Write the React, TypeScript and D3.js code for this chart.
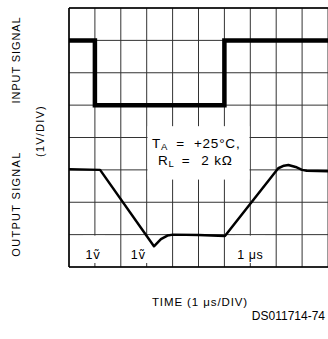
import React from "react";
import * as d3 from "d3";

// Time axis: 10 divisions of 1 µs; vertical: 8 divisions of 1 V
const timeDivisions = d3.range(0, 11);
const voltDivisions = d3.range(0, 9);

// Input square wave (time in divisions, level in divisions)
const inputTime = [0, 1, 1, 6, 6, 10];
const inputLevel = [7, 7, 5, 5, 7, 7];

// Output response
const outputTime = [0, 1.2, 3.28, 3.55, 3.8, 4.02, 5.0, 6.02, 8.08, 8.3, 8.47, 8.75, 9.0, 9.18, 10];
const outputLevel = [3.02, 3.0, 0.64, 0.86, 0.97, 1.0, 0.99, 0.96, 3.05, 3.13, 3.15, 3.09, 3.0, 2.97, 2.96];

// Scale annotations near the bottom of the screen
const scaleLabels = ["1ṽ", "1ṽ", "1 μs"];
const scaleLabelTime = [0.93, 2.68, 7.0];

const yLabelInput = "INPUT SIGNAL";
const yLabelOutput = "OUTPUT SIGNAL";
const yLabelScale = "(1V/DIV)";
const xLabel = "TIME (1 μs/DIV)";
const figureId = "DS011714-74";

const W = 328;
const H = 339;
const FONT = "'Liberation Sans', Arial, Helvetica, sans-serif";

export default function App() {
  const x = d3.scaleLinear().domain([0, 10]).range([69, 328]);
  const y = d3.scaleLinear().domain([0, 8]).range([267, 8]);

  const inputPts: [number, number][] = inputTime.map((t, i) => [x(t), y(inputLevel[i])]);
  const outputPts: [number, number][] = outputTime.map((t, i) => [x(t), y(outputLevel[i])]);
  const line = d3.line().curve(d3.curveLinear);

  const boxX0 = x(3) + 0.8;
  const boxX1 = x(7) - 0.8;
  const boxY0 = y(4.35);
  const boxY1 = y(2.7);

  return (
    <svg
      width={W}
      height={H}
      style={{ position: "absolute", left: 0, top: 0, background: "#fff" }}
      fontFamily={FONT}
    >
      <rect x={0} y={0} width={W} height={H} fill="#fff" />
      {/* grid */}
      <g stroke="#333" strokeWidth={1}>
        {timeDivisions.map((d) => (
          <line key={"v" + d} x1={x(d)} x2={x(d)} y1={y(0)} y2={y(8)} />
        ))}
        {voltDivisions.map((d) => (
          <line key={"h" + d} x1={x(0)} x2={x(10)} y1={y(d)} y2={y(d)} />
        ))}
      </g>
      {/* frame */}
      <g stroke="#000" strokeWidth={1.5} fill="none">
        <line x1={x(0)} x2={x(0)} y1={y(0)} y2={y(8)} />
        <line x1={x(0)} x2={x(10)} y1={y(8)} y2={y(8)} />
        <line x1={x(0)} x2={x(10)} y1={y(0)} y2={y(0)} />
      </g>

      {/* condition box */}
      <rect x={boxX0} y={boxY0} width={boxX1 - boxX0} height={boxY1 - boxY0} fill="#fff" />
      <text fontSize={13.5} fill="#000" letterSpacing={0.8}>
        <tspan x={152} y={147.5}>T</tspan>
        <tspan fontSize={9.5} dy={2.5}>A</tspan>
        <tspan dy={-2.5} dx={8}>=</tspan>
        <tspan dx={9}>+25°C,</tspan>
      </text>
      <text fontSize={13.5} fill="#000" letterSpacing={0.8}>
        <tspan x={158} y={164.5}>R</tspan>
        <tspan fontSize={9.5} dy={2.5}>L</tspan>
        <tspan dy={-2.5} dx={7}>=</tspan>
        <tspan dx={11}>2 kΩ</tspan>
      </text>

      {/* scale labels near bottom */}
      {scaleLabels.map((s, i) => {
        const cx = x(scaleLabelTime[i]);
        const isV = s.length <= 2;
        const w = isV ? 22 : 30;
        return (
          <g key={"sl" + i}>
            <rect x={cx - w / 2 + (isV ? 1 : 0)} y={y(1) + 1} width={w} height={y(0) - y(1) - 5} fill="#fff" />
            {isV ? (
              <text x={cx} y={259} fontSize={12.5} textAnchor="middle" fill="#000" letterSpacing={0.6}>
                {s.slice(0, 1)}
                <tspan fontFamily="'DejaVu Sans', sans-serif" fontSize={12}>{s.slice(1)}</tspan>
              </text>
            ) : (
              <text x={cx} y={259} fontSize={12.5} textAnchor="middle" fill="#000" letterSpacing={0.6}>
                {s}
              </text>
            )}
          </g>
        );
      })}

      {/* signals */}
      <path d={line(inputPts) || ""} fill="none" stroke="#000" strokeWidth={4.5} strokeLinejoin="miter" />
      <path d={line(outputPts) || ""} fill="none" stroke="#000" strokeWidth={2.5} strokeLinejoin="round" />

      {/* axis labels */}
      <text transform={`translate(20,60) rotate(-90)`} textAnchor="middle" fontSize={11} letterSpacing={0.9} fill="#000">
        {yLabelInput}
      </text>
      <text transform={`translate(44,131) rotate(-90)`} textAnchor="middle" fontSize={11} letterSpacing={1.2} fill="#000">
        {yLabelScale}
      </text>
      <text transform={`translate(20,204) rotate(-90)`} textAnchor="middle" fontSize={11} letterSpacing={1.3} fill="#000">
        {yLabelOutput}
      </text>
      <text x={200} y={306} textAnchor="middle" fontSize={11.5} letterSpacing={0.9} fill="#000">
        {xLabel}
      </text>
      <text x={325} y={320} textAnchor="end" fontSize={12} fill="#000">
        {figureId}
      </text>
    </svg>
  );
}
